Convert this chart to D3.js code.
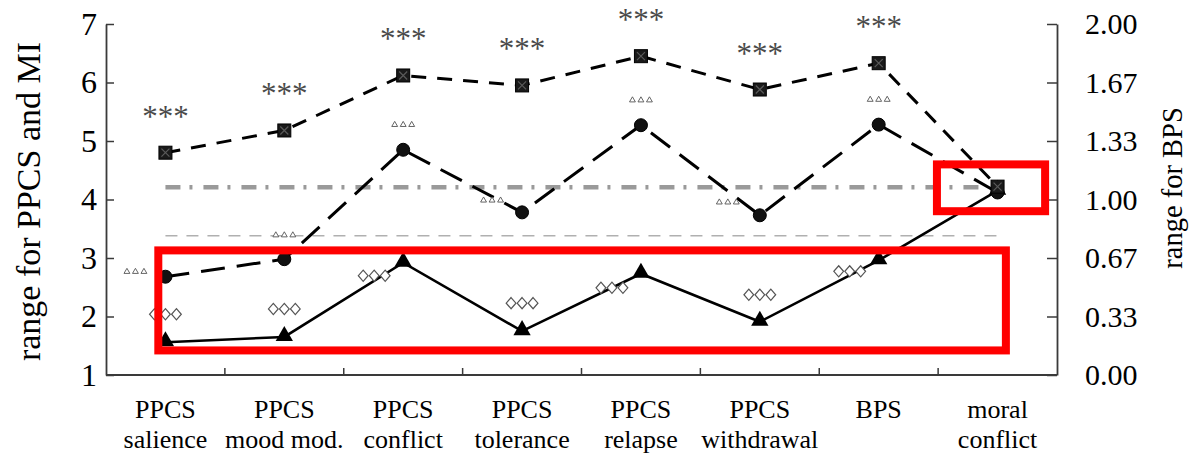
<!DOCTYPE html>
<html>
<head>
<meta charset="utf-8">
<script src="https://cdn.jsdelivr.net/npm/d3@7"></script>
<style>
  body { margin: 0; background: #fff; }
  text { font-family: "Liberation Serif", "Times New Roman", serif; }
</style>
</head>
<body>
<svg id="chart" width="1191" height="456"></svg>
<script>
// category labels, two lines each
var categories = [
  ["PPCS", "salience"], ["PPCS", "mood mod."], ["PPCS", "conflict"],
  ["PPCS", "tolerance"], ["PPCS", "relapse"], ["PPCS", "withdrawal"],
  ["BPS"], ["moral", "conflict"]
];

// values in units of the left axis (range for PPCS and MI)
var squareValues   = [4.80, 5.18, 6.12, 5.95, 6.45, 5.88, 6.33, 4.22];
var circleValues   = [2.68, 2.98, 4.85, 3.78, 5.27, 3.73, 5.28, 4.12];
var triangleValues = [1.56, 1.65, 2.92, 1.75, 2.73, 1.91, 2.96, 4.15];

// significance marks
var starLabels     = ["***", "***", "***", "***", "***", "***", "***", ""];
var triangleMarks  = [3, 3, 3, 3, 3, 3, 3, 0];
var diamondMarks   = [3, 3, 3, 3, 3, 3, 3, 0];

// horizontal reference levels
var dashDotLevel = 4.21;
var dashedLevel  = 3.38;

// tick labels
var leftTicks  = [1, 2, 3, 4, 5, 6, 7];
var rightTicks = [0, 1/3, 2/3, 1, 4/3, 5/3, 2];
var rightTickLabels = ["0.00", "0.33", "0.67", "1.00", "1.33", "1.67", "2.00"];

// highlight boxes (category index, left-axis value)
var boxX0 = [-0.06, 6.49], boxX1 = [7.07, 7.40];
var boxY0 = [3.13, 4.60],  boxY1 = [1.42, 3.80];

// layout for the little significance glyph groups (px offsets from the point)
var triOffsets = [[-30,-5],[0,-24],[0,-25],[-30,-12],[0,-25],[-32,-13],[0,-25],[0,0]];
var diaOffsets = [[0,-28],[0,-28],[-29,13],[0,-28],[-29,14],[0,-27],[-29,11],[0,0]];

var svg = d3.select("#chart");
var plotL = 106, plotR = 1057, plotT = 24, plotB = 375;

var x = d3.scaleBand().domain(d3.range(categories.length)).range([plotL, plotR]);
var xc = function(i) { return x(i) + x.bandwidth() / 2; };
var xIdx = d3.scaleLinear().domain([-0.5, categories.length - 0.5]).range([plotL, plotR]);
var yL = d3.scaleLinear().domain([1, 7]).range([plotB, plotT]);
var yR = d3.scaleLinear().domain([0, 2]).range([plotB, plotT]);

// axes
var axisColor = "#3a3a3a";
var gl = svg.append("g").attr("transform", "translate(" + plotL + ",0)")
  .call(d3.axisLeft(yL).tickValues(leftTicks).tickFormat(d3.format("d"))
    .tickSize(-8).tickSizeOuter(0).tickPadding(9));
gl.selectAll("text").style("font-size", "32px").attr("fill", "#000");

var gr = svg.append("g").attr("transform", "translate(" + plotR + ",0)")
  .call(d3.axisRight(yR).tickValues(rightTicks).tickSize(-10).tickSizeOuter(0).tickPadding(28)
    .tickFormat(function(d, i) { return rightTickLabels[i]; }));
gr.selectAll("text").style("font-size", "30px").attr("fill", "#000");

[gl, gr].forEach(function(g) {
  g.select(".domain").attr("stroke", axisColor).attr("stroke-width", 1.8);
  g.selectAll(".tick line").attr("stroke", axisColor).attr("stroke-width", 1.5);
});

svg.append("line")
  .attr("x1", plotL).attr("x2", plotR).attr("y1", plotB).attr("y2", plotB)
  .attr("stroke", axisColor).attr("stroke-width", 1.8);

svg.selectAll(".xtick")
  .data(d3.range(1, categories.length))
  .enter().append("line")
    .attr("x1", function(i) { return x(i); })
    .attr("x2", function(i) { return x(i); })
    .attr("y1", plotB).attr("y2", plotB - 7)
    .attr("stroke", axisColor).attr("stroke-width", 1.5);

var catLabels = svg.selectAll(".cat")
  .data(categories)
  .enter().append("text")
    .attr("text-anchor", "middle")
    .style("font-size", "26px");
catLabels.selectAll("tspan")
  .data(function(d, i) { return d.map(function(s) { return {s: s, i: i}; }); })
  .enter().append("tspan")
    .attr("x", function(d) { return xc(d.i); })
    .attr("y", function(d, j) { return 418 + j * 30; })
    .text(function(d) { return d.s; });

svg.append("text")
  .attr("transform", "translate(40," + ((plotT + plotB) / 2 + 2) + ") rotate(-90)")
  .attr("text-anchor", "middle")
  .style("font-size", "34px")
  .text("range for PPCS and MI");

svg.append("text")
  .attr("transform", "translate(1182,188) rotate(-90)")
  .attr("text-anchor", "middle")
  .style("font-size", "28.5px")
  .text("range for BPS");

// reference lines
svg.append("line")
  .attr("x1", xIdx(0)).attr("x2", xIdx(categories.length - 1) - 12)
  .attr("y1", yL(dashDotLevel)).attr("y2", yL(dashDotLevel))
  .attr("stroke", "#9a9a9a").attr("stroke-width", 4.5)
  .attr("stroke-dasharray", "15,9,3,11");

svg.append("line")
  .attr("x1", xIdx(0)).attr("x2", xIdx(categories.length - 1))
  .attr("y1", yL(dashedLevel)).attr("y2", yL(dashedLevel))
  .attr("stroke", "#b0b0b0").attr("stroke-width", 1.6)
  .attr("stroke-dasharray", "12,9");

// series lines
var line = d3.line()
  .x(function(d, i) { return xc(i); })
  .y(function(d) { return yL(d); });

svg.append("path").datum(triangleValues)
  .attr("d", line).attr("fill", "none")
  .attr("stroke", "#000").attr("stroke-width", 2.6);

svg.append("path").datum(circleValues)
  .attr("d", line).attr("fill", "none")
  .attr("stroke", "#000").attr("stroke-width", 3)
  .attr("stroke-dasharray", "24,12");

svg.append("path").datum(squareValues)
  .attr("d", line).attr("fill", "none")
  .attr("stroke", "#000").attr("stroke-width", 3)
  .attr("stroke-dasharray", "15,11");

// markers
svg.selectAll(".tri")
  .data(triangleValues)
  .enter().append("path")
    .attr("d", d3.symbol(d3.symbolTriangle, 130))
    .attr("transform", function(d, i) { return "translate(" + xc(i) + "," + (yL(d) - 1) + ")"; })
    .attr("fill", "#000");

svg.selectAll(".dot")
  .data(circleValues)
  .enter().append("circle")
    .attr("cx", function(d, i) { return xc(i); })
    .attr("cy", function(d) { return yL(d); })
    .attr("r", 6.5)
    .attr("fill", "#111").attr("stroke", "#000");

var sq = svg.selectAll(".sq")
  .data(squareValues)
  .enter().append("g")
    .attr("transform", function(d, i) { return "translate(" + xc(i) + "," + yL(d) + ")"; });
sq.append("rect")
  .attr("x", -6.5).attr("y", -6.5).attr("width", 13).attr("height", 13)
  .attr("fill", "#1a1a1a").attr("stroke", "#000").attr("stroke-width", 1);
sq.append("path")
  .attr("d", "M-4,-4L4,4M-4,4L4,-4")
  .attr("stroke", "#5a5a5a").attr("stroke-width", 1.2);

// significance annotations
svg.selectAll(".star")
  .data(starLabels)
  .enter().append("text")
    .attr("x", function(d, i) { return xc(i); })
    .attr("y", function(d, i) { return yL(squareValues[i]) - 26; })
    .attr("text-anchor", "middle")
    .attr("fill", "#4a4a4a")
    .style("font-size", "31px")
    .text(function(d) { return d; });

var diamond = {
  draw: function(ctx, size) {
    var w = Math.sqrt(size) * 0.5, h = w * 1.15;
    ctx.moveTo(0, -h); ctx.lineTo(w, 0); ctx.lineTo(0, h); ctx.lineTo(-w, 0); ctx.closePath();
  }
};

function glyphGroup(counts, offsets, anchorValues, symbolPath, gap, stroke, sw) {
  counts.forEach(function(n, i) {
    for (var k = 0; k < n; k++) {
      svg.append("path")
        .attr("d", symbolPath)
        .attr("transform", "translate(" +
          (xc(i) + offsets[i][0] + (k - (n - 1) / 2) * gap) + "," +
          (yL(anchorValues[i]) + offsets[i][1]) + ")")
        .attr("fill", "#fff")
        .attr("stroke", stroke).attr("stroke-width", sw);
    }
  });
}

glyphGroup(triangleMarks, triOffsets, circleValues,
  d3.symbol(d3.symbolTriangle, 15)(), 8.5, "#555", 0.9);
glyphGroup(diamondMarks, diaOffsets, triangleValues,
  d3.symbol(diamond, 95)(), 11, "#555", 1.2);

// red highlight boxes
svg.selectAll(".hl")
  .data(boxX0)
  .enter().append("rect")
    .attr("x", function(d) { return xIdx(d); })
    .attr("y", function(d, i) { return yL(boxY0[i]); })
    .attr("width", function(d, i) { return xIdx(boxX1[i]) - xIdx(d); })
    .attr("height", function(d, i) { return yL(boxY1[i]) - yL(boxY0[i]); })
    .attr("fill", "none")
    .attr("stroke", "#ff0000").attr("stroke-width", 8);
</script>
</body>
</html>
